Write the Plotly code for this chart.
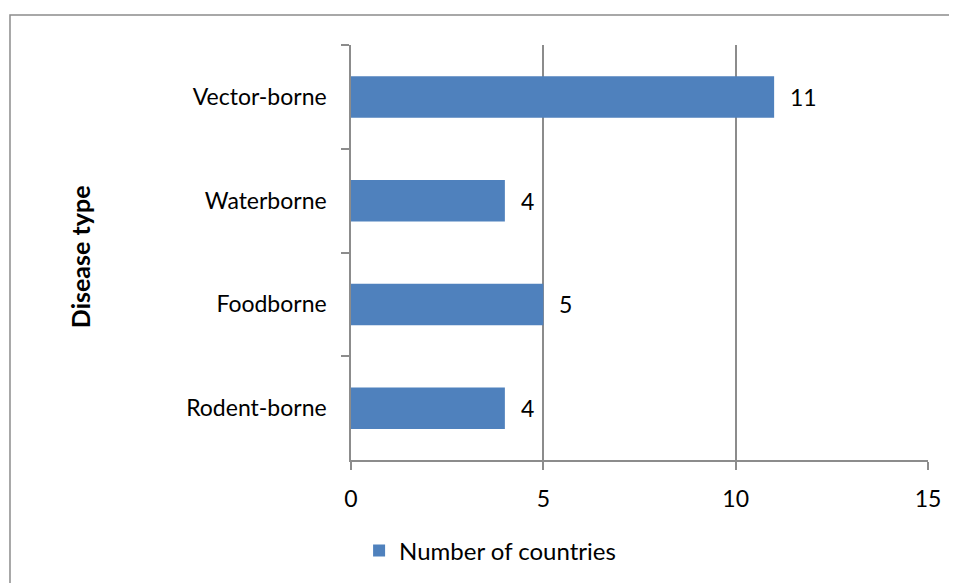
import plotly.graph_objects as go

# disease types listed top to bottom
disease_types = ["Vector-borne", "Waterborne", "Foodborne", "Rodent-borne"]
countries = [11, 4, 5, 4]
x_ticks = [0, 5, 10, 15]

BAR_BLUE = "#4F81BD"
AXIS_GRAY = "#8C8C8C"
FONT = "Lato, 'Open Sans', sans-serif"

fig = go.Figure()
fig.add_trace(go.Bar(
    x=countries, y=disease_types, orientation="h",
    name="Number of countries",
    marker=dict(color=BAR_BLUE, line=dict(width=0)),
))

# data labels to the right of each bar
for cat, val in zip(disease_types, countries):
    fig.add_annotation(
        x=val, y=cat, text=str(val), showarrow=False,
        xanchor="left", xshift=14, font=dict(size=23, color="#000000", family=FONT),
    )

# y-axis title
fig.add_annotation(
    text="<b>Disease type</b>", textangle=-90, showarrow=False,
    xref="paper", yref="paper", x=-0.50, y=0.49,
    font=dict(size=25, color="#000000", family=FONT),
)

# outer chart frame (runs off the right and bottom edges)
fig.add_shape(
    type="rect", xref="paper", yref="paper",
    x0=-0.591, x1=1.1, y0=-0.35, y1=1.0723,
    line=dict(color="#8C8C8C", width=1.5), layer="below",
)

# the page body adds an 8px margin, so the figure is 8px smaller
fig.update_layout(
    width=949, height=575,
    margin=dict(l=343, r=29, t=37, b=123),
    paper_bgcolor="#FFFFFF", plot_bgcolor="#FFFFFF",
    font=dict(family=FONT, size=23, color="#000000"),
    bargap=0.6,
    showlegend=True,
    legend=dict(
        orientation="h", xref="container", yref="container",
        x=0.508, xanchor="center", y=0.056, yanchor="middle",
        font=dict(size=24, color="#000000"), bgcolor="rgba(0,0,0,0)",
    ),
    xaxis=dict(
        range=[0, 15], tickvals=x_ticks, ticktext=[str(t) for t in x_ticks],
        showgrid=True, gridcolor=AXIS_GRAY, gridwidth=1.5,
        zeroline=False, showline=True, linecolor=AXIS_GRAY, linewidth=1.5,
        ticks="outside", ticklen=8, tickcolor=AXIS_GRAY, tickwidth=1.5,
        ticklabelstandoff=10, automargin=False, fixedrange=True,
    ),
    yaxis=dict(
        categoryorder="array", categoryarray=disease_types, autorange="reversed",
        showgrid=False, zeroline=False,
        showline=True, linecolor=AXIS_GRAY, linewidth=1.5,
        ticks="outside", ticklen=8, tickcolor=AXIS_GRAY, tickwidth=1.5,
        tickson="boundaries", ticklabelstandoff=18, automargin=False,
        fixedrange=True,
    ),
)

fig.write_html("out.html")
